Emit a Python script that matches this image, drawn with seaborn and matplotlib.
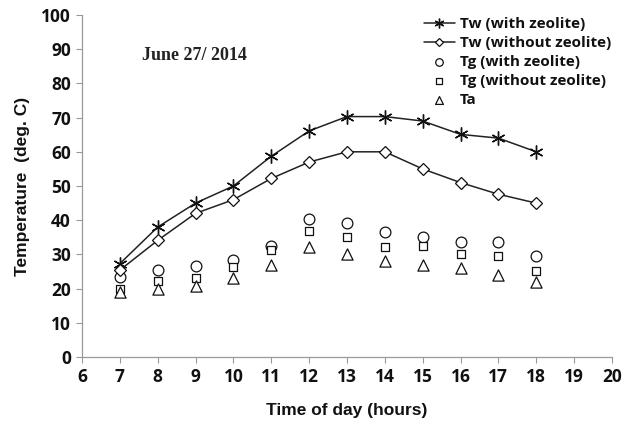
import matplotlib
matplotlib.use("Agg")
import matplotlib.pyplot as plt
import seaborn as sns

hours = [7, 8, 9, 10, 11, 12, 13, 14, 15, 16, 17, 18]
tw_with = [27.3, 38.0, 45.0, 50.0, 58.7, 66.1, 70.3, 70.3, 69.0, 65.1, 64.0, 60.0]
tw_without = [25.4, 34.1, 42.0, 46.0, 52.2, 57.0, 60.0, 60.0, 55.0, 51.0, 47.6, 45.0]
tg_with = [23.5, 25.5, 26.6, 28.5, 32.6, 40.3, 39.2, 36.5, 35.1, 33.5, 33.5, 29.5]
tg_without = [20.0, 22.1, 23.1, 26.3, 31.2, 36.8, 35.1, 32.2, 32.4, 30.2, 29.5, 25.1]
ta = [19.0, 19.9, 20.9, 23.0, 26.8, 32.2, 30.0, 28.0, 27.0, 26.0, 24.1, 22.0]

labels = ["Tw (with zeolite)", "Tw (without zeolite)", "Tg (with zeolite)",
          "Tg (without zeolite)", "Ta"]
x_ticks = list(range(6, 21))
y_ticks = list(range(0, 101, 10))

sns.set_theme(style="white")
plt.rcParams["font.family"] = ["Liberation Sans", "DejaVu Sans"]

fig = plt.figure(figsize=(6.22, 4.24), dpi=100)
ax = fig.add_axes([0.1318, 0.158, 0.852, 0.8066])

star = (6, 2, 0)
sns.lineplot(x=hours, y=tw_with, ax=ax, color="#222222", lw=1.1,
             marker=star, markersize=10, markeredgewidth=1.0,
             markeredgecolor="#111111", label=labels[0])
sns.lineplot(x=hours, y=tw_without, ax=ax, color="#222222", lw=1.1,
             marker="D", markersize=6, markerfacecolor="white",
             markeredgewidth=0.9, markeredgecolor="#111111", label=labels[1])
sns.scatterplot(x=hours, y=tg_with, ax=ax, marker="o", s=60, facecolor="white",
                edgecolor="#111111", linewidth=0.9, label=labels[2])
sns.scatterplot(x=hours, y=tg_without, ax=ax, marker="s", s=40, facecolor="white",
                edgecolor="#111111", linewidth=0.9, label=labels[3])
sns.scatterplot(x=hours, y=ta, ax=ax, marker="^", s=65, facecolor="white",
                edgecolor="#111111", linewidth=0.9, label=labels[4])

ax.set_xlim(6, 20)
ax.set_ylim(0, 100)
ax.set_xticks(x_ticks)
ax.set_yticks(y_ticks)
ax.tick_params(axis="both", direction="out", length=4, width=0.8,
               color="#999999", pad=4, bottom=True, left=True)
for lab in ax.get_xticklabels() + ax.get_yticklabels():
    lab.set_fontfamily(["Open Sans", "DejaVu Sans"])
    lab.set_fontweight("bold")
    lab.set_fontsize(12.5)
    lab.set_color("#111111")

for side in ("top", "right"):
    ax.spines[side].set_visible(False)
for side in ("left", "bottom"):
    ax.spines[side].set_color("#999999")
    ax.spines[side].set_linewidth(0.9)

ax.set_xlabel("Time of day (hours)", fontsize=12.5, fontweight="bold",
              color="#111111", labelpad=12)
ax.set_ylabel("Temperature  (deg. C)", fontsize=12.5, fontweight="bold",
              color="#111111", labelpad=8)

ax.text(0.113, 0.883, "June 27/ 2014", transform=ax.transAxes,
        fontsize=13, fontweight="bold", color="#222222",
        family=["Liberation Serif", "DejaVu Serif"], va="center", ha="left")

leg = ax.legend(loc="upper right", bbox_to_anchor=(1.01, 1.012), frameon=False,
                prop={"family": ["Open Sans", "DejaVu Sans"], "weight": "bold",
                      "size": 11},
                markerscale=0.7, handlelength=2.0, handletextpad=0.35,
                labelspacing=0.32, borderaxespad=0.0)
for t in leg.get_texts():
    t.set_color("#111111")

fig.savefig("out.png", dpi=100, facecolor="white")
